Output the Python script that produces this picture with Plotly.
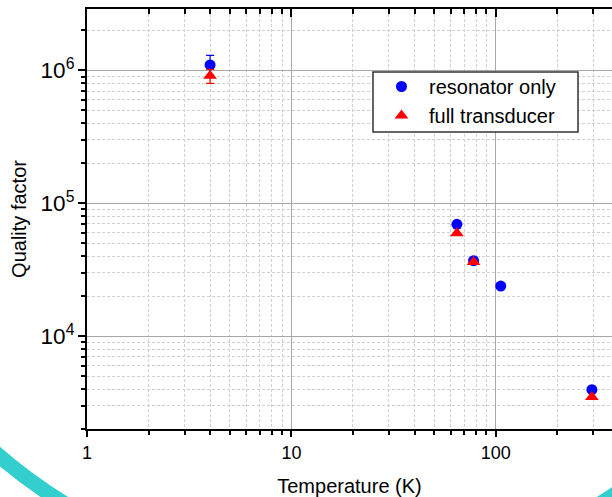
import numpy as np
import plotly.graph_objects as go

# ---- data ----
temp_res = [4.0, 64.5, 77.8, 105.7, 295.0]
q_res = [1.1e6, 6.95e4, 3.7e4, 2.38e4, 3.95e3]
q_res_err = [2.0e5, 0, 0, 0, 0]

temp_full = [4.0, 64.5, 77.8, 295.0]
q_full = [9.1e5, 5.95e4, 3.62e4, 3.48e3]
q_full_err = [1.1e5, 0, 0, 0]

name_res = "resonator only"
name_full = "full transducer"
x_title = "Temperature (K)"
y_title = "Quality factor"

W, H = 612, 497
L, R, T, B = 87, 0, 9, 68
x_range = [0, np.log10(370)]
y_range = [np.log10(2000), np.log10(2.9e6)]

FONT = "Liberation Sans, Arial, sans-serif"
MINOR_GRID = dict(showgrid=True, gridcolor="#d0d0d0", griddash="3px,2px", gridwidth=1)


def px2paper_x(px):
    return (px - L) / (W - L - R)


def px2paper_y(py):
    return 1 - (py - T) / (H - T - B)


fig = go.Figure()
fig.add_trace(go.Scatter(
    x=temp_res, y=q_res, mode="markers", name=name_res,
    marker=dict(symbol="circle", size=11, color="#0000FF"),
    error_y=dict(type="data", array=q_res_err, color="#0000FF", thickness=1.2, width=4),
))
fig.add_trace(go.Scatter(
    x=temp_full, y=q_full, mode="markers", name=name_full,
    marker=dict(symbol="triangle-up", size=12, color="#FF0000"),
    error_y=dict(type="data", array=q_full_err, color="#FF0000", thickness=1.2, width=4),
))
# invisible trace for top mirror axis
fig.add_trace(go.Scatter(x=[temp_res[0]], y=[q_res[0]], xaxis="x2", mode="markers",
                         marker=dict(opacity=0), showlegend=False, hoverinfo="skip"))

axis_common = dict(
    type="log", showline=True, linecolor="black", linewidth=2,
    ticks="outside", tickwidth=2, tickcolor="black",
    showgrid=True, gridcolor="#a8a8a8", gridwidth=1, zeroline=False,
    tickfont=dict(family=FONT, size=18, color="black"),
    dtick=1, automargin=False,
)

fig.update_layout(
    width=W, height=H,
    margin=dict(l=L, r=R, t=T, b=B, autoexpand=False),
    paper_bgcolor="white", plot_bgcolor="white",
    font=dict(family=FONT, color="black"),
    xaxis=dict(
        **axis_common, range=x_range, ticklen=6, exponentformat="none",
        minor=dict(dtick="D1", ticks="outside", ticklen=4, tickwidth=2, tickcolor="black",
                   **MINOR_GRID),
        title=dict(text=x_title, font=dict(family=FONT, size=20), standoff=17),
    ),
    xaxis2=dict(
        type="log", overlaying="x", side="top", range=x_range, matches="x",
        showline=True, linecolor="black", linewidth=2, showgrid=False, zeroline=False,
        ticks="inside", ticklen=8, tickwidth=2, tickcolor="black", dtick=1,
        showticklabels=False, automargin=False,
        minor=dict(dtick="D1", ticks="inside", ticklen=5, tickwidth=2, tickcolor="black",
                   showgrid=False),
    ),
    yaxis=dict(
        **axis_common, range=y_range, ticklen=7, exponentformat="power",
        minor=dict(dtick="D1", ticks="outside", ticklen=4, tickwidth=2, tickcolor="black",
                   **MINOR_GRID),
        title=dict(text=y_title, font=dict(family=FONT, size=20), standoff=9),
    ),
    legend=dict(
        x=px2paper_x(374), y=px2paper_y(67),
        xanchor="left", yanchor="top",
        bgcolor="rgba(0,0,0,0)", borderwidth=0,
        font=dict(family=FONT, size=20, color="black"),
        itemwidth=45,
    ),
    showlegend=True,
)

# legend frame (white box with dark border, drawn above the grid, below the legend text)
fig.add_shape(type="rect", xref="paper", yref="paper",
              x0=px2paper_x(373), x1=px2paper_x(578),
              y0=px2paper_y(132), y1=px2paper_y(72),
              line=dict(color="#333333", width=1.5), fillcolor="white", layer="above")

# decorative teal arc visible at the bottom of the reference picture
cx, cy, rad = 332.5, 66, 513
fig.add_shape(type="circle", xref="paper", yref="paper",
              x0=px2paper_x(cx - rad), x1=px2paper_x(cx + rad),
              y0=px2paper_y(cy + rad), y1=px2paper_y(cy - rad),
              line=dict(color="#33CFCF", width=15), layer="below")

fig.write_html("out.html", config={"displayModeBar": False},
               post_script="document.body.style.margin='0';")
